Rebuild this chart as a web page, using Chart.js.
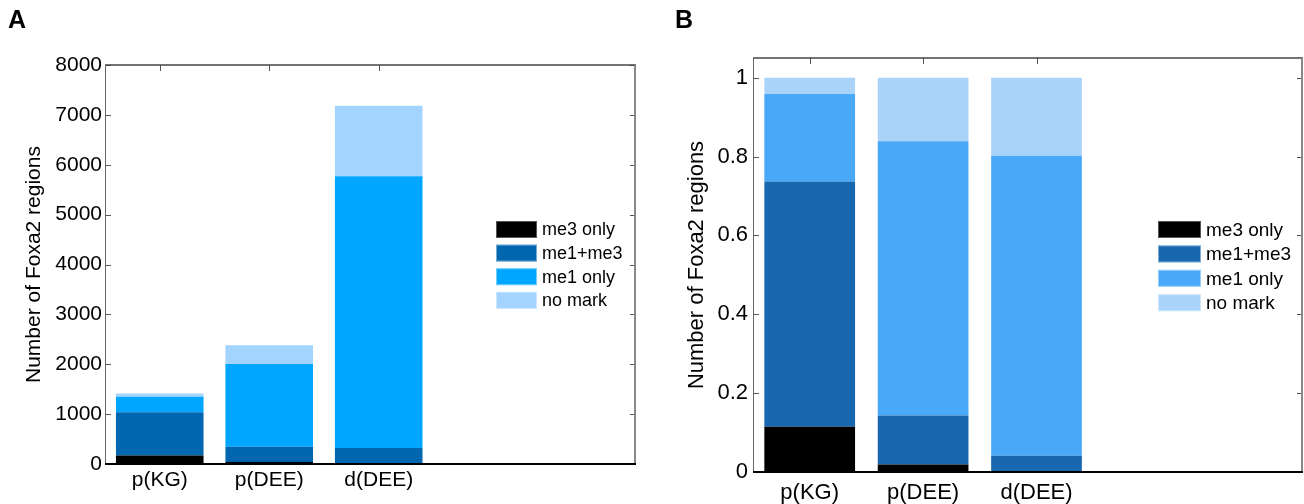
<!DOCTYPE html>
<html>
<head>
<meta charset="utf-8">
<script src="https://cdn.jsdelivr.net/npm/chart.js@4.4.1/dist/chart.umd.min.js"></script>
<style>
  html, body { margin: 0; padding: 0; background: #fff; }
  #wrap { position: relative; width: 1304px; height: 504px; overflow: hidden; }
  #wrap canvas { position: absolute; top: 0; }
  #countChart { left: 0; }
  #fracChart { left: 650px; }
  .tag { position: absolute; top: 7px; font: bold 25px 'Liberation Sans', Arial, sans-serif; line-height: 25px; }
</style>
</head>
<body>
<div id="wrap">
  <canvas id="countChart" width="650" height="504"></canvas>
  <canvas id="fracChart" width="654" height="504"></canvas>
  <div class="tag" style="left:8px">A</div>
  <div class="tag" style="left:675px">B</div>
</div>
<script>
const categories = ['p(KG)', 'p(DEE)', 'd(DEE)'];
const markLabels = ['me3 only', 'me1+me3', 'me1 only', 'no mark'];

// number of Foxa2 regions in each class
const countMe3 = [170, 40, 0];
const countMe1Me3 = [870, 305, 320];
const countMe1 = [310, 1660, 5450];
const countNoMark = [65, 375, 1415];
const countTicks = [0, 1000, 2000, 3000, 4000, 5000, 6000, 7000, 8000];

// same classes as a fraction of each set
const fracMe3 = [0.115, 0.019, 0];
const fracMe1Me3 = [0.622, 0.124, 0.041];
const fracMe1 = [0.222, 0.696, 0.761];
const fracNoMark = [0.041, 0.161, 0.198];
const fracTicks = [0, 0.2, 0.4, 0.6, 0.8, 1];

const colorsA = ['#000000', '#0066b0', '#00a6ff', '#a2d4ff'];
const colorsB = ['#000000', '#1868b0', '#4aa8f8', '#aad3fa'];

const FONT = "'Liberation Sans', Arial, Helvetica, sans-serif";
Chart.defaults.font.family = FONT;
Chart.defaults.color = '#000';

// axes box with inward tick marks, drawn over the bars
const framePlugin = {
    id: 'frame',
    afterDatasetsDraw(chart, args, opts) {
        const { ctx, chartArea: a, scales } = chart;
        ctx.save();
        ctx.strokeStyle = '#555';
        ctx.lineWidth = 1;
        scales.y.ticks.forEach(t => {
            const y = Math.round(scales.y.getPixelForValue(t.value)) + 0.5;
            ctx.beginPath();
            ctx.moveTo(a.left, y);
            ctx.lineTo(a.left + opts.tick, y);
            ctx.moveTo(a.right, y);
            ctx.lineTo(a.right - opts.tick, y);
            ctx.stroke();
        });
        scales.x.ticks.forEach(t => {
            const x = Math.round(scales.x.getPixelForValue(t.value)) + 0.5;
            ctx.beginPath();
            ctx.moveTo(x, a.top);
            ctx.lineTo(x, a.top + opts.tick);
            ctx.stroke();
        });

        ctx.strokeStyle = '#444';
        ctx.lineWidth = 1.5;
        ctx.beginPath();
        ctx.moveTo(a.left, a.top);
        ctx.lineTo(a.right, a.top);
        ctx.stroke();

        ctx.strokeStyle = '#666';
        ctx.lineWidth = 1;
        ctx.beginPath();
        ctx.moveTo(a.left + 0.5, a.top);
        ctx.lineTo(a.left + 0.5, a.bottom);
        ctx.stroke();

        ctx.strokeStyle = '#888';
        ctx.lineWidth = 2;
        ctx.beginPath();
        ctx.moveTo(a.right - 1, a.top);
        ctx.lineTo(a.right - 1, a.bottom);
        ctx.stroke();

        ctx.strokeStyle = '#000';
        ctx.lineWidth = 2;
        ctx.beginPath();
        ctx.moveTo(a.left, a.bottom);
        ctx.lineTo(a.right, a.bottom);
        ctx.stroke();
        ctx.restore();
    }
};

// legend box sitting inside the plot
const keyPlugin = {
    id: 'key',
    afterDraw(chart, args, opts) {
        const ctx = chart.ctx;
        ctx.save();
        ctx.font = opts.fontSize + 'px ' + FONT;
        ctx.textBaseline = 'middle';
        chart.data.datasets.forEach((ds, i) => {
            const y = opts.top + i * opts.step;
            ctx.fillStyle = ds.backgroundColor;
            ctx.fillRect(opts.left, y, opts.boxW, opts.boxH);
            ctx.strokeStyle = i === 0 ? '#555' : 'rgba(255,255,255,0.45)';
            ctx.lineWidth = 1;
            ctx.strokeRect(opts.left + 0.5, y + 0.5, opts.boxW - 1, opts.boxH - 1);
            ctx.fillStyle = '#000';
            ctx.fillText(ds.label, opts.left + opts.boxW + opts.gap, y + opts.boxH / 2 + 1);
        });
        ctx.restore();
    }
};

function makePanel(id, series, colors, ticks, p) {
    const datasets = series.map((values, k) => ({
        label: markLabels[k],
        data: values.map((v, i) => ({ x: i + 1, y: v })),
        backgroundColor: colors[k],
        borderWidth: 0,
        categoryPercentage: 1,
        barPercentage: 0.8
    }));

    return new Chart(document.getElementById(id), {
        type: 'bar',
        data: { datasets: datasets },
        plugins: [framePlugin, keyPlugin],
        options: {
            responsive: false,
            animation: false,
            layout: { padding: { left: 0, top: p.top, right: p.right, bottom: 0 } },
            scales: {
                x: {
                    type: 'linear',
                    offset: false,
                    min: 0.5,
                    max: 5.35,
                    stacked: true,
                    grid: { display: false, drawTicks: false, offset: false },
                    border: { display: false },
                    afterBuildTicks: s => { s.ticks = categories.map((c, i) => ({ value: i + 1 })); },
                    afterFit: s => { s.height = p.xHeight; },
                    ticks: {
                        autoSkip: false,
                        maxRotation: 0,
                        padding: p.xPad,
                        font: { size: p.xFont },
                        callback: v => categories[v - 1]
                    }
                },
                y: {
                    stacked: true,
                    min: 0,
                    max: p.yMax,
                    grid: { display: false, drawTicks: false },
                    border: { display: false },
                    afterBuildTicks: s => { s.ticks = ticks.map(v => ({ value: v })); },
                    afterFit: s => { s.width = p.yWidth; },
                    ticks: {
                        padding: p.yPad,
                        font: { size: p.yFont },
                        callback: v => String(v)
                    },
                    title: {
                        display: true,
                        text: 'Number of Foxa2 regions',
                        font: { size: p.titleFont },
                        padding: { top: p.titlePad, bottom: 0 }
                    }
                }
            },
            plugins: {
                legend: { display: false },
                tooltip: { enabled: false },
                frame: { tick: 6 },
                key: p.key
            }
        }
    });
}

document.addEventListener('DOMContentLoaded', function () {
    makePanel('countChart', [countMe3, countMe1Me3, countMe1, countNoMark], colorsA, countTicks, {
        top: 65, right: 14, xHeight: 40, yWidth: 105, yMax: 8000,
        xPad: 4, xFont: 21, yPad: 3, yFont: 21, titleFont: 21, titlePad: 22,
        key: { left: 496, top: 221, step: 23.6, boxW: 41, boxH: 17, gap: 5, fontSize: 18 }
    });
    makePanel('fracChart', [fracMe3, fracMe1Me3, fracMe1, fracNoMark], colorsB, fracTicks, {
        top: 58, right: 1, xHeight: 32, yWidth: 103, yMax: 1.05,
        xPad: 8, xFont: 22, yPad: 5, yFont: 22, titleFont: 22, titlePad: 34,
        key: { left: 508, top: 221, step: 24.4, boxW: 43, boxH: 17, gap: 5, fontSize: 19 }
    });
});
</script>
</body>
</html>
